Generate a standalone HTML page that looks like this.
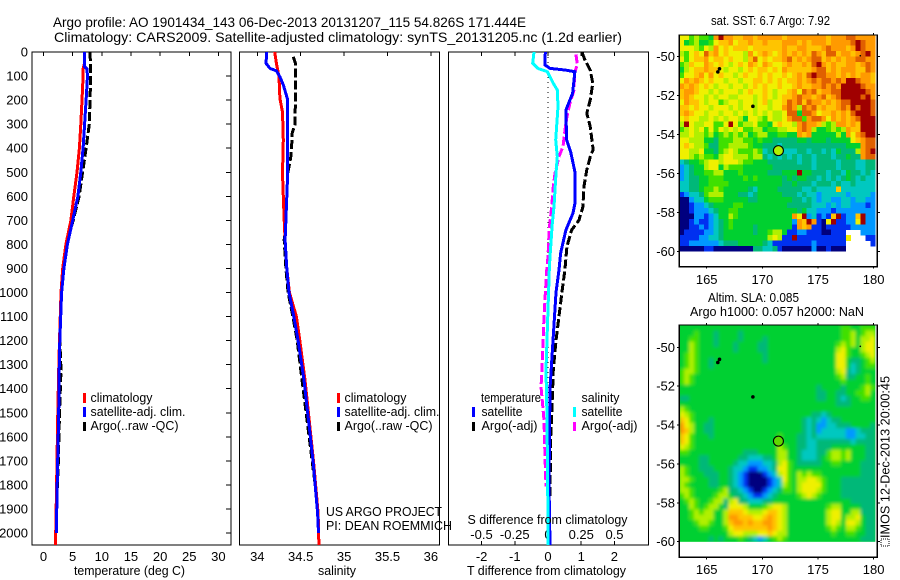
<!DOCTYPE html>
<html>
<head>
<meta charset="utf-8">
<title>Argo profile</title>
<style>
html,body{margin:0;padding:0;background:#fff;}
svg{display:block;}
text{font-family:"Liberation Sans",sans-serif;font-size:12.5px;fill:#000;}
.frame{fill:none;stroke:#000;stroke-width:1.2;shape-rendering:crispEdges;}
.tick{stroke:#000;stroke-width:1;shape-rendering:crispEdges;}
.ln{fill:none;stroke-width:3;stroke-linejoin:miter;shape-rendering:crispEdges;}
.dash{stroke-dasharray:9 3;}
</style>
</head>
<body>
<svg id="chart" xmlns="http://www.w3.org/2000/svg" width="900" height="580" viewBox="0 0 900 580">
  <defs>
    <filter id="soften" x="-2%" y="-2%" width="104%" height="104%"><feGaussianBlur stdDeviation="1.5"/></filter>
    <clipPath id="sla-clip"><rect x="679.3" y="325" width="196" height="216.8"/></clipPath>
  </defs>
  <rect width="900" height="580" fill="#fff"/>
  <text x="53" y="27" font-size="14" style="font-size:14px" textLength="473" lengthAdjust="spacingAndGlyphs">Argo profile: AO 1901434_143 06-Dec-2013 20131207_115 54.826S 171.444E</text>
  <text x="54" y="42" style="font-size:14px" textLength="568" lengthAdjust="spacingAndGlyphs">Climatology: CARS2009. Satellite-adjusted climatology: synTS_20131205.nc (1.2d earlier)</text>
  <g id="panels"></g>
  <g id="maps"></g>

  <text x="74" y="575" textLength="111" lengthAdjust="spacingAndGlyphs">temperature (deg C)</text>
  <text x="318" y="575" textLength="38" lengthAdjust="spacingAndGlyphs">salinity</text>
  <text x="467" y="575" textLength="159" lengthAdjust="spacingAndGlyphs">T difference from climatology</text>
  <text x="467.5" y="524" textLength="160" lengthAdjust="spacingAndGlyphs">S difference from climatology</text>

  <g>
    <rect x="83" y="393" width="3" height="10" fill="#f00"/>
    <text x="90.5" y="402" textLength="62" lengthAdjust="spacingAndGlyphs">climatology</text>
    <rect x="83" y="407" width="3" height="10" fill="#00f"/>
    <text x="90.5" y="416" textLength="95" lengthAdjust="spacingAndGlyphs">satellite-adj. clim.</text>
    <rect x="83" y="422" width="3" height="9" fill="#000"/>
    <text x="90.5" y="430" textLength="88" lengthAdjust="spacingAndGlyphs">Argo(..raw -QC)</text>
  </g>
  <g>
    <rect x="337" y="393" width="3" height="10" fill="#f00"/>
    <text x="344.5" y="402" textLength="62" lengthAdjust="spacingAndGlyphs">climatology</text>
    <rect x="337" y="407" width="3" height="10" fill="#00f"/>
    <text x="344.5" y="416" textLength="95" lengthAdjust="spacingAndGlyphs">satellite-adj. clim.</text>
    <rect x="337" y="422" width="3" height="9" fill="#000"/>
    <text x="344.5" y="430" textLength="88" lengthAdjust="spacingAndGlyphs">Argo(..raw -QC)</text>
  </g>
  <g>
    <text x="481" y="402" textLength="60" lengthAdjust="spacingAndGlyphs">temperature</text>
    <rect x="472" y="407" width="3" height="10" fill="#00f"/>
    <text x="481.5" y="416" textLength="41" lengthAdjust="spacingAndGlyphs">satellite</text>
    <rect x="472" y="422" width="3" height="9" fill="#000"/>
    <text x="481.5" y="430" textLength="56" lengthAdjust="spacingAndGlyphs">Argo(-adj)</text>
    <text x="581.5" y="402" textLength="38" lengthAdjust="spacingAndGlyphs">salinity</text>
    <rect x="573" y="407" width="3" height="10" fill="#00ffff"/>
    <text x="581.5" y="416" textLength="41" lengthAdjust="spacingAndGlyphs">satellite</text>
    <rect x="573" y="422" width="3" height="9" fill="#f0f"/>
    <text x="581.5" y="430" textLength="56" lengthAdjust="spacingAndGlyphs">Argo(-adj)</text>
  </g>
  <text x="326" y="516" textLength="116" lengthAdjust="spacingAndGlyphs">US ARGO PROJECT</text>
  <text x="326" y="530" textLength="126" lengthAdjust="spacingAndGlyphs">PI: DEAN ROEMMICH</text>

  <text x="711" y="25" textLength="119" lengthAdjust="spacingAndGlyphs">sat. SST: 6.7 Argo: 7.92</text>
  <text x="708" y="302" textLength="91" lengthAdjust="spacingAndGlyphs">Altim. SLA: 0.085</text>
  <text x="690" y="316" textLength="174" lengthAdjust="spacingAndGlyphs">Argo h1000: 0.057 h2000: NaN</text>
  <text transform="translate(889.5,538) rotate(-90)" textLength="162" lengthAdjust="spacingAndGlyphs">IMOS 12-Dec-2013 20:00:45</text>
  <rect x="881" y="539" width="8" height="7" fill="none" stroke="#000" stroke-width="1" stroke-dasharray="1 1"/>
</svg>
<script>
var NS = 'http://www.w3.org/2000/svg';

// ---- temperature panel data ----
var tClimDepth = [0,50,70,100,200,300,400,500,600,700,800,900,1000,1200,1322,1500,1800,2000,2050];
var tClim = [7.0,7.0,6.8,6.8,6.6,6.4,6.15,5.75,5.2,4.7,3.85,3.3,3.0,2.75,2.6,2.45,2.25,2.1,2.1];
var tSatDepth = [0,60,70,100,200,300,400,500,600,700,800,900,1000,1200,1322,1500,1800,2000];
var tSat = [7.0,7.0,7.45,7.55,7.3,7.05,6.8,6.4,5.9,5.0,4.1,3.5,3.1,2.8,2.7,2.6,2.35,2.2];
var tArgoDepth = [0,100,300,400,500,600,700,800,900,1000,1200,1322,1500,1700,1850];
var tArgo = [8.0,8.1,7.85,7.3,6.7,6.1,5.1,3.9,3.4,3.0,2.8,3.0,2.75,2.55,2.3];

// ---- salinity panel data ----
var sClimDepth = [0,47,103,193,250,366,505,600,700,782,900,1000,1100,1200,1364,1710,1917,2050];
var sClim = [34.2,34.22,34.25,34.26,34.29,34.30,34.29,34.30,34.31,34.32,34.34,34.37,34.45,34.49,34.55,34.65,34.70,34.71];
var sSatDepth = [0,47,68,78,103,137,193,366,505,600,782,900,1000,1100,1200,1364,1710,1917,2000];
var sSat = [34.11,34.10,34.146,34.22,34.26,34.30,34.346,34.35,34.35,34.34,34.32,34.34,34.365,34.42,34.47,34.538,34.645,34.695,34.705];
var sArgoDepth = [20,47,137,300,340,366,440,505,600,782,900,1000,1100,1200,1364,1710,1850];
var sArgo = [34.415,34.44,34.44,34.435,34.40,34.40,34.385,34.35,34.34,34.31,34.33,34.355,34.41,34.46,34.515,34.635,34.685];

// ---- difference panel data ----
var dTSatDepth = [0,54,68,75,82,172,241,366,414,498,630,671,740,837,906,1000,1200,1400,1800,2050];
var dTSat = [-0.08,-0.09,0.06,0.51,0.81,0.74,0.54,0.56,0.68,0.81,0.81,0.75,0.54,0.38,0.33,0.24,0.15,0.06,0.03,0.06];
var dTArgoDepth = [0,33,75,130,200,255,310,407,428,490,560,644,700,740,810,906,1000,1200,1322,1475,1600,1850];
var dTArgo = [1.02,1.11,1.27,1.35,1.27,1.17,1.27,1.36,1.29,1.17,1.08,1.05,0.93,0.71,0.57,0.51,0.42,0.24,0.16,0.12,0.08,0.06];
var dSSatDepth = [0,47,68,82,130,158,227,366,435,504,643,712,851,906,1322,1500,1800,2050];
var dSSat = [-0.105,-0.115,-0.075,-0.005,0.04,0.07,0.075,0.058,0.07,0.06,0.045,0.032,0.015,0.01,-0.015,-0.008,-0.002,0];
var dSArgoDepth = [10,50,90,160,213,268,324,393,435,504,567,644,740,851,906,1100,1322,1391,1530,1670,1807];
var dSArgo = [0.21,0.22,0.20,0.195,0.165,0.143,0.128,0.113,0.083,0.053,0.038,0.028,0.008,0,-0.01,-0.03,-0.045,-0.053,-0.03,-0.023,-0.015];

// ---- tick labels ----
var depthTicks = [0,100,200,300,400,500,600,700,800,900,1000,1100,1200,1300,1400,1500,1600,1700,1800,1900,2000];
var tempTicks = [0,5,10,15,20,25,30];
var salTicks = [34,34.5,35,35.5,36];
var tDiffTicks = [-2,-1,0,1,2];
var sDiffTicks = [-0.5,-0.25,0,0.25,0.5];
var lonTicks = [165,170,175,180];
var latTicks = [-50,-52,-54,-56,-58,-60];

// ---- float markers ----
var profileLon = 171.444;
var profileLat = -54.826;
var otherFloatLon = [166.0,166.15,169.15,178.8];
var otherFloatLat = [-50.78,-50.62,-52.55,-49.95];

// ---- map cell values: colour-level codes, top row first, west to east ----
var levelColors = {'0':'#00007f','1':'#0030f0','2':'#0098ff','3':'#00c8c0','4':'#00b878','5':'#00d030','6':'#40e000','7':'#b0f000','8':'#f0f000','9':'#ffc400','a':'#ff9a00','b':'#e06000','c':'#a00000'};
var sstRows = [
"8867665aca a99aa9aaaa a9aaaaaaaa 9aaabbaaaa",
"8567556899 a899a99a99 9aaa9a9aaa 9aaaabcbaa",
"8887687a89 8999899999 9a99aa999a baaa9acbaa",
"76898b9a89 8887a89a98 9a9a9a9ba9 bb9aa9abca",
"86899a8998 98879b8989 9ab9a9abb9 a9a9aabbaa",
"67988a9898 7898a98a98 89a99a9bca 9a99aa9aba",
"57899a9987 8878989989 8a99999abb 9a9aaa99ba",
"6889a8a898 8789889898 8989a9bcbb aa9a9a9aa9",
"8a9a989887 8878899898 9899a9abab babaccbaa9",
"a9a9898788 7887898988 9889a99aab abaccccbaa",
"9aa9887878 8878988987 889a8bab9a abbcccccba",
"9a98878788 7788878987 899abaa9ab 9abccccbca",
"8a99878867 8878878978 89bab9baa9 a9abbccccb",
"9989887888 7878878878 8aba7bab9a 99abacbccb",
"9a98878878 8787878787 78bb5bba89 9a9a9bcccb",
"8988778787 8875887687 78abb6abba 8a9a9abccc",
"7c87788668 c867786658 9887abaa97 67aa9a9ccc",
"6787868687 8786677566 7788aba755 6767a99ccc",
"7787767567 6767567755 6655a9a555 5575a8abcc",
"8877755466 6776656554 4444554555 4555589abb",
"8987764466 7777655444 3444444444 4444555abb",
"8877855467 8766676344 3333443443 4354447abc",
"8876766578 8777677434 3434344344 4344544abb",
"3455678878 8876655544 4444344344 4434443344",
"2345578857 6665555554 4444444344 4434443344",
"2345566775 5565555544 4555c55444 3443544343",
"2344556665 5556565555 5454554434 3434543433",
"3344556666 5555555555 5445444344 4343343333",
"3344566765 5555435555 4444433433 3393333333",
"1233467775 5544345555 5444343323 3333233332",
"0023356665 5555445555 5554434323 3223323322",
"0012234555 5665555555 5544444333 2323322212",
"0012223455 6655555555 5555453322 2122222222",
"0002212355 7655555555 555a8c2312 19c1229c22",
"0012112345 6555555555 5552a9ca10 8c11228c22",
"0011212345 6555545555 5551a9a110 1111122222",
"0111122345 5555545567 7511221110 0111...222",
"1111223345 5555555578 711c111111 11118...11",
"1122222234 4455555431 1111111211 1111.....1",
"0000011000 0000044334 1000000200 1000......"
];
var slaRows = [
"5555555555 5555555555 5555555555 5556655666",
"5556555455 5545555555 5555555555 5556675677",
"5566555455 5545555455 5555555555 5556675778",
"5576555455 5455554455 5555555555 5567675788",
"5576555555 5455554455 5555555555 5578655788",
"5676555555 5555555455 5555555555 5588655678",
"5676554555 5555555455 5555555555 5588544567",
"5676554555 5555555555 5555555555 5588534566",
"6776555555 5555555555 5555555555 5578434555",
"6765555555 5555555555 5555555555 5567445565",
"6765555555 5555555555 5555555555 5556555565",
"5555555555 5555555555 5555555545 5554555676",
"5555555555 5555555555 5555555544 5544556675",
"4455555555 5555555555 5555555544 5543455665",
"5555555555 5555555555 5555555555 5544455555",
"7655555555 5555555555 5555555555 5555555555",
"8765555555 5555555555 5555555443 4555555555",
"9865554555 5555555555 5555543432 3445555555",
"a875544555 5555555555 5555543422 3344455554",
"a975544555 5555555555 5555543423 3333223444",
"9865554555 5555555555 6555443433 3333223344",
"9865555555 5555555555 6555443344 4444434444",
"8765555555 5555555555 7655443344 4555555544",
"6655555555 5554445555 7755433344 6776755544",
"5555445555 5544333445 7755433345 6776755544",
"5555445555 5433222334 7865444445 5665555444",
"7655444555 4332112234 8865555555 5555555444",
"7655544455 4321000123 7865767665 5555555444",
"7765554455 4321000012 3865778876 5554444444",
"7655554455 4321000012 3765788886 5554444444",
"7765555567 4432100123 4665788876 5554444444",
"6765555677 5443211234 5555678765 5554444444",
"5676556774 7844333445 5555555555 5555544444",
"5576567754 8887555678 8755555555 6775555444",
"5567677557 9998777899 8755555555 7885577444",
"5567777557 aa999889a9 8755555555 7885778544",
"5556776557 9aa9a99aa9 8755555555 7875887544",
"5555665556 89999999a9 8755555555 6765776544",
"5555555555 7887778898 7755555555 5655665544",
"5555554545 5565432356 7655555555 5555555444"
];
var gridLonStart = 162.54;
var gridLatStart = -48.87;
var gridLonStep = 0.44;
var gridLatStep = 0.2783;

function el(tag, attrs, parent) {
  var e = document.createElementNS(NS, tag);
  for (var k in attrs) e.setAttribute(k, attrs[k]);
  parent.appendChild(e);
  return e;
}
var panels = document.getElementById('panels');
var maps = document.getElementById('maps');

function yDepth(d) { return 52 + d * 0.2405; }

function drawSeries(name, xs, ds, xFn, color, dashed, parent) {
  var d = '';
  for (var i = 0; i < xs.length; i++) {
    d += (i ? 'L' : 'M') + xFn(xs[i]).toFixed(1) + ' ' + yDepth(ds[i]).toFixed(1);
  }
  var p = el('path', {d: d, stroke: color, 'class': dashed ? 'ln dash' : 'ln'}, parent);
  
  
}

function addFrame(name, x, y, w, h, parent) {
  var r = el('rect', {x: x, y: y, width: w, height: h, 'class': 'frame'}, parent);
  
  
}
function addTick(x1, y1, x2, y2, parent) {
  var t = el('line', {x1: x1, y1: y1, x2: x2, y2: y2, 'class': 'tick'}, parent);
  
  
}
function addLabel(str, x, y, anchor, parent) {
  var t = el('text', {x: x, y: y, 'text-anchor': anchor}, parent);
  t.style.fontSize = '13px';
  t.textContent = str;
  
  
}

// temperature panel
function xTemp(t) { return 43.5 + t * 5.83; }
addFrame('temperature-panel', 32, 52, 199, 493, panels);
depthTicks.forEach(function (d) {
  addTick(226, yDepth(d), 231, yDepth(d), panels);
  addLabel(String(d), 28, yDepth(d) + 4.5, 'end', panels);
});
tempTicks.forEach(function (t) {
  addTick(xTemp(t), 52, xTemp(t), 56, panels);
  addLabel(String(t), xTemp(t), 561, 'middle', panels);
});
drawSeries('temperature-argo-line', tArgo, tArgoDepth, xTemp, '#000', true, panels);
drawSeries('temperature-climatology-line', tClim, tClimDepth, xTemp, '#f00', false, panels);
drawSeries('temperature-satellite-line', tSat, tSatDepth, xTemp, '#00f', false, panels);

// salinity panel
function xSal(s) { return 257.3 + (s - 34) * 86.8; }
addFrame('salinity-panel', 239.5, 52, 200, 493, panels);
salTicks.forEach(function (s) {
  addTick(xSal(s), 52, xSal(s), 56, panels);
  addLabel(String(s), xSal(s), 561, 'middle', panels);
});
drawSeries('salinity-argo-line', sArgo, sArgoDepth, xSal, '#000', true, panels);
drawSeries('salinity-climatology-line', sClim, sClimDepth, xSal, '#f00', false, panels);
drawSeries('salinity-satellite-line', sSat, sSatDepth, xSal, '#00f', false, panels);

// difference panel
function xDT(t) { return 548 + t * 33.2; }
function xDS(s) { return 548 + s * 133; }
addFrame('difference-panel', 448.5, 52, 200, 493, panels);
var zeroLine = el('line', {x1: xDT(0), y1: 52, x2: xDT(0), y2: 545, stroke: '#000', 'stroke-dasharray': '1 4'}, panels);


tDiffTicks.forEach(function (t) {
  addTick(xDT(t), 52, xDT(t), 56, panels);
  addTick(xDT(t), 541, xDT(t), 545, panels);
  addLabel(String(t), xDT(t), 561, 'middle', panels);
});
sDiffTicks.forEach(function (s) {
  addLabel(String(s), xDS(s), 539, 'middle', panels);
});
drawSeries('salinity-diff-argo-line', dSArgo, dSArgoDepth, xDS, '#f0f', true, panels);
drawSeries('temperature-diff-argo-line', dTArgo, dTArgoDepth, xDT, '#000', true, panels);
drawSeries('temperature-diff-satellite-line', dTSat, dTSatDepth, xDT, '#00f', false, panels);
drawSeries('salinity-diff-satellite-line', dSSat, dSSatDepth, xDS, '#00ffff', false, panels);

// maps
function drawMap(name, rows, top, bottom, y50, ppd, tickY, markerFill, smooth) {
  function xLon(lon) { return 706.7 + (lon - 165) * 11.13; }
  function yLat(lat) { return y50 + (-50 - lat) * ppd; }
  var g = el('g', {}, maps);
  
  
  var holder = el('g', smooth ? {'clip-path': 'url(#sla-clip)'} : {}, g);
  
  
  if (smooth) {
    var backing = el('rect', {x: 675, y: top - 5, width: 205, height: bottom - top + 5, fill: levelColors['5']}, holder);
    
    
  }
  var cells = el('g', smooth ? {filter: 'url(#soften)'} : {'shape-rendering': 'crispEdges'}, holder);
  
  
  rows.forEach(function (rowStr, r) {
    var row = rowStr.replace(/ /g, '');
    for (var c = 0; c < row.length; c++) {
      var col = levelColors[row.charAt(c)];
      if (!col) continue;
      var x0 = xLon(gridLonStart + c * gridLonStep);
      var x1 = xLon(gridLonStart + (c + 1) * gridLonStep);
      var y0 = yLat(gridLatStart - r * gridLatStep);
      var y1 = yLat(gridLatStart - (r + 1) * gridLatStep);
      var cell = el('rect', {x: x0.toFixed(1), y: y0.toFixed(1), width: (x1 - x0 + 0.4).toFixed(1), height: (y1 - y0 + 0.4).toFixed(1), fill: col}, cells);
      
      
    }
  });
  addFrame(name + '-frame', 679.3, top, 198, bottom - top, g);
  lonTicks.forEach(function (lon) {
    addTick(xLon(lon), top - 2, xLon(lon), top, g);
    addTick(xLon(lon), bottom, xLon(lon), bottom + 2, g);
    addLabel(String(lon), xLon(lon), tickY, 'middle', g);
  });
  latTicks.forEach(function (lat) {
    addTick(677, yLat(lat), 679, yLat(lat), g);
    addTick(877, yLat(lat), 880, yLat(lat), g);
    addLabel(String(lat), 675, yLat(lat) + 4.5, 'end', g);
  });
  otherFloatLon.forEach(function (lon, i) {
    var dot = el('circle', {cx: xLon(lon), cy: yLat(otherFloatLat[i]), r: i === 3 ? 0.8 : 1.8, fill: '#000'}, g);
    
    
  });
  var m = el('circle', {cx: xLon(profileLon), cy: yLat(profileLat), r: 5, fill: markerFill, stroke: '#000', 'stroke-width': 1.1}, g);
  
  
}
drawMap('sst-map', sstRows, 35, 266.7, 56.7, 19.46, 284, '#b0f000', false);
drawMap('sla-map', slaRows, 325, 557.3, 347.3, 19.44, 574, '#60d800', true);
</script>
</body>
</html>
